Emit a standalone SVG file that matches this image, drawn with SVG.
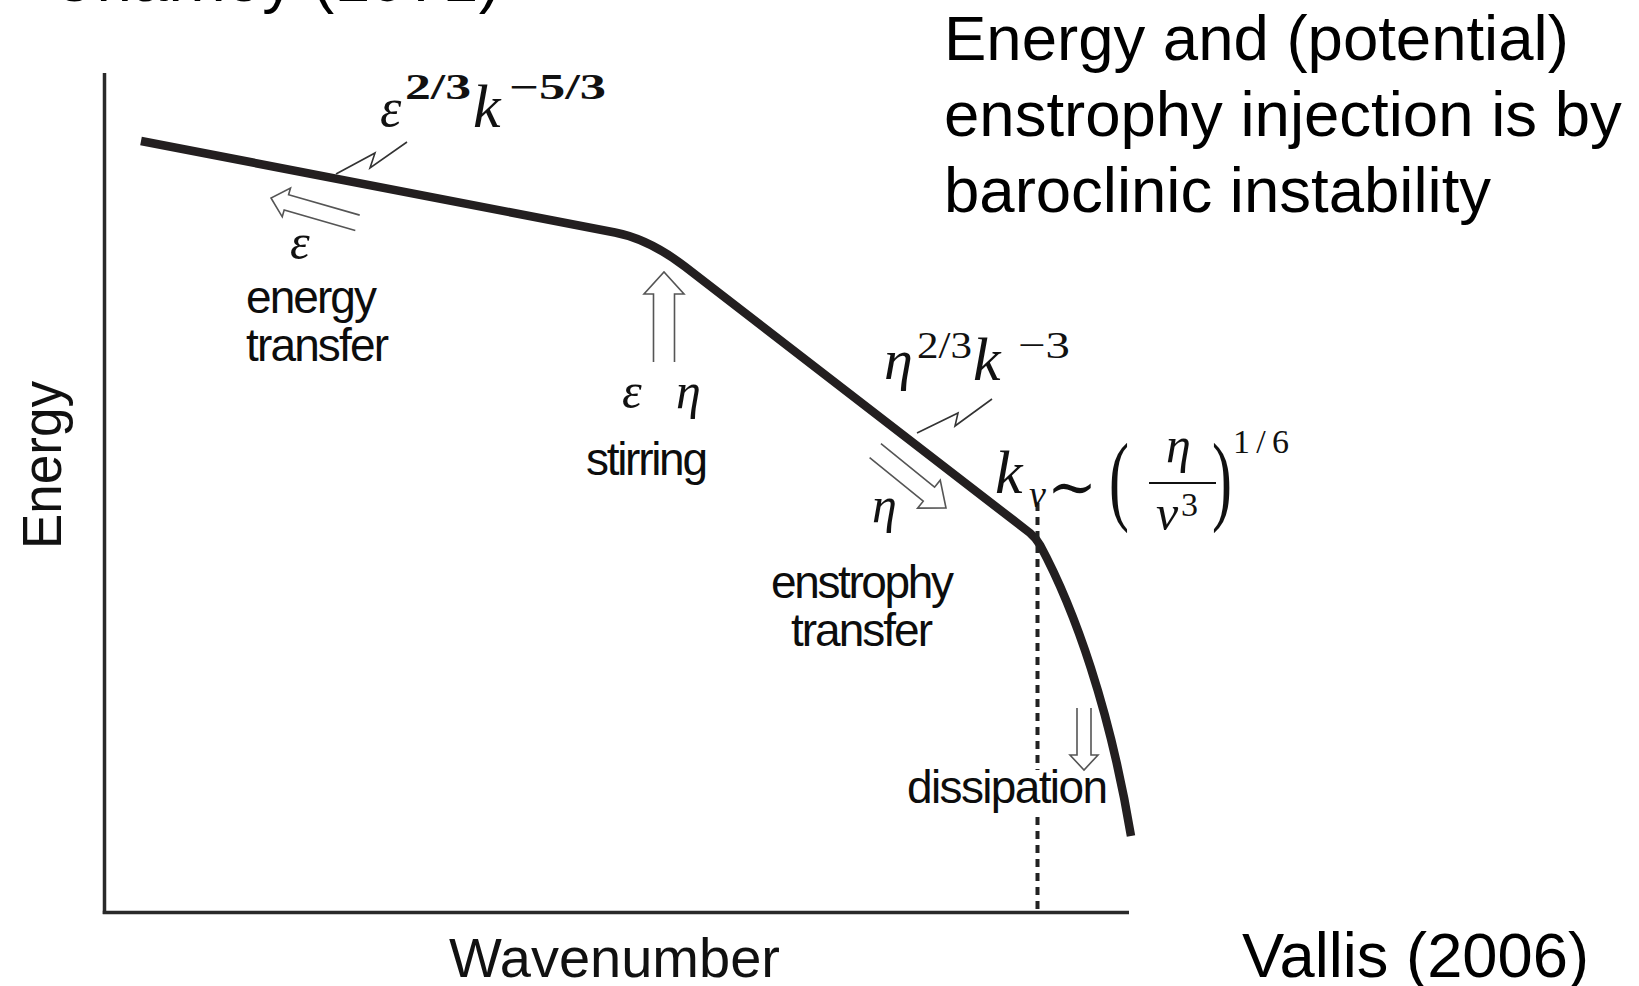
<svg xmlns="http://www.w3.org/2000/svg" width="1639" height="986" viewBox="0 0 1639 986">
<defs>
<style>
.slide{font-family:"Liberation Sans",Arial,sans-serif;font-size:63.5px;fill:#000}
.lab{font-family:"Liberation Sans",Arial,sans-serif;font-size:46px;fill:#0d0d0d}
.ax{font-family:"Liberation Sans",Arial,sans-serif;font-size:56px;fill:#111}
.mi{font-family:"Liberation Serif","DejaVu Serif",serif;font-style:italic;fill:#111}
.mn{font-family:"Liberation Serif","DejaVu Serif",serif;fill:#111}
.axis{stroke:#2a2a2a;stroke-width:3.5;fill:none}
.curve{stroke:#231f20;stroke-width:8.5;fill:none;stroke-linejoin:round}
.bolt{stroke:#333;stroke-width:1.6;fill:none;stroke-linejoin:miter}
.harrow{stroke:#555;stroke-width:1.6;fill:#fff;stroke-linejoin:miter}
.dash{stroke:#222;stroke-width:4;stroke-dasharray:8 6;fill:none}
</style>
</defs>
<rect width="1639" height="986" fill="#fff"/>

<g id="title-cut">
<text class="slide" x="50" y="1" textLength="450">Charney (1971)</text>
</g>

<g id="note">
<text class="slide" x="944" y="60">Energy and (potential)</text>
<text class="slide" x="944" y="136">enstrophy injection is by</text>
<text class="slide" x="944" y="212">baroclinic instability</text>
</g>

<g id="citation">
<text class="slide" x="1242" y="977" textLength="347" lengthAdjust="spacingAndGlyphs">Vallis (2006)</text>
</g>

<g id="axes">
<line class="axis" x1="104.5" y1="73" x2="104.5" y2="914"/>
<line class="axis" x1="102.75" y1="912.5" x2="1129" y2="912.5"/>
<text class="ax" transform="translate(61,465) rotate(-90)" text-anchor="middle" font-size="57" textLength="168" lengthAdjust="spacingAndGlyphs">Energy</text>
<text class="ax" x="449" y="977">Wavenumber</text>
</g>

<g id="spectrum">
<path class="curve" d="M141,141 L615,232.5 Q649.4,239.2 685,266.7 L1030,533 Q1036,538 1040,545 C1075,610 1110,710 1131,836"/>
</g>

<g id="dissipation-scale">
<line class="dash" x1="1037.5" y1="503" x2="1037.5" y2="770"/>
<line class="dash" x1="1037.5" y1="817" x2="1037.5" y2="911"/>
</g>

<g id="connectors">
<polyline class="bolt" points="336,174 375,153 370,168 407,142"/>
<polyline class="bolt" points="917,433 958,413 955,426 992,399"/>
</g>

<g id="energy-transfer">
<path class="harrow" transform="translate(271,198) rotate(196)" d="M-90,-8 L-16,-8 L-16,-15 L0,0 L-16,15 L-16,8 L-90,8"/>
<text class="mi" x="290" y="259" font-size="50">ε</text>
<text class="lab" x="246" y="313" textLength="131">energy</text>
<text class="lab" x="246" y="361" textLength="143">transfer</text>
</g>

<g id="stirring">
<path class="harrow" transform="translate(664,272) rotate(-90)" d="M-90,-10.5 L-22,-10.5 L-22,-20 L0,0 L-22,20 L-22,10.5 L-90,10.5"/>
<text class="mi" x="622" y="408" font-size="50">ε</text>
<text class="mi" x="676" y="408" font-size="50">η</text>
<text class="lab" x="586" y="475" textLength="122">stirring</text>
</g>

<g id="enstrophy-transfer">
<path class="harrow" transform="translate(946,508) rotate(39)" d="M-91,-9 L-22,-9 L-22,-18 L0,0 L-22,18 L-22,9 L-91,9"/>
<text class="mi" x="872" y="522" font-size="50">η</text>
<text class="lab" x="771" y="598" textLength="183">enstrophy</text>
<text class="lab" x="791" y="646" textLength="142">transfer</text>
</g>

<g id="dissipation">
<rect x="905" y="772" width="206" height="44" fill="#fff"/>
<path class="harrow" transform="translate(1084,770) rotate(90)" d="M-62,-7 L-15,-7 L-15,-14 L0,0 L-15,14 L-15,7 L-62,7"/>
<text class="lab" x="907" y="803" textLength="201">dissipation</text>
</g>

<g id="law-energy">
<text class="mi" x="380" y="126" font-size="54">ε</text>
<text class="mn" x="405" y="99" font-size="36" font-weight="bold" textLength="66" lengthAdjust="spacingAndGlyphs">2/3</text>
<text class="mi" x="473" y="127" font-size="62">k</text>
<text class="mn" x="509" y="99" font-size="36" font-weight="bold" textLength="97" lengthAdjust="spacingAndGlyphs">−5/3</text>
</g>

<g id="law-enstrophy">
<text class="mi" x="884" y="379" font-size="58">η</text>
<text class="mn" x="917" y="358" font-size="38" textLength="55" lengthAdjust="spacingAndGlyphs">2/3</text>
<text class="mi" x="973" y="380" font-size="62">k</text>
<text class="mn" x="1018" y="358" font-size="38" textLength="52" lengthAdjust="spacingAndGlyphs">−3</text>
</g>

<g id="law-kv">
<text class="mi" x="995" y="493" font-size="62">k</text>
<text class="mi" x="1029" y="507" font-size="38">ν</text>
<text class="mn" x="1047" y="508" font-size="62" textLength="50" lengthAdjust="spacingAndGlyphs">∼</text>
<text class="mn" transform="translate(1109,512) scale(0.6,1)" font-size="100">(</text>
<text class="mi" x="1166" y="462" font-size="50">η</text>
<line x1="1149" y1="483" x2="1216" y2="483" stroke="#111" stroke-width="2"/>
<text class="mi" x="1156" y="530" font-size="50">ν</text>
<text class="mn" x="1181" y="516" font-size="34">3</text>
<text class="mn" transform="translate(1212,512) scale(0.6,1)" font-size="100">)</text>
<text class="mn" x="1233" y="453" font-size="34" textLength="56">1/6</text>
</g>
</svg>
